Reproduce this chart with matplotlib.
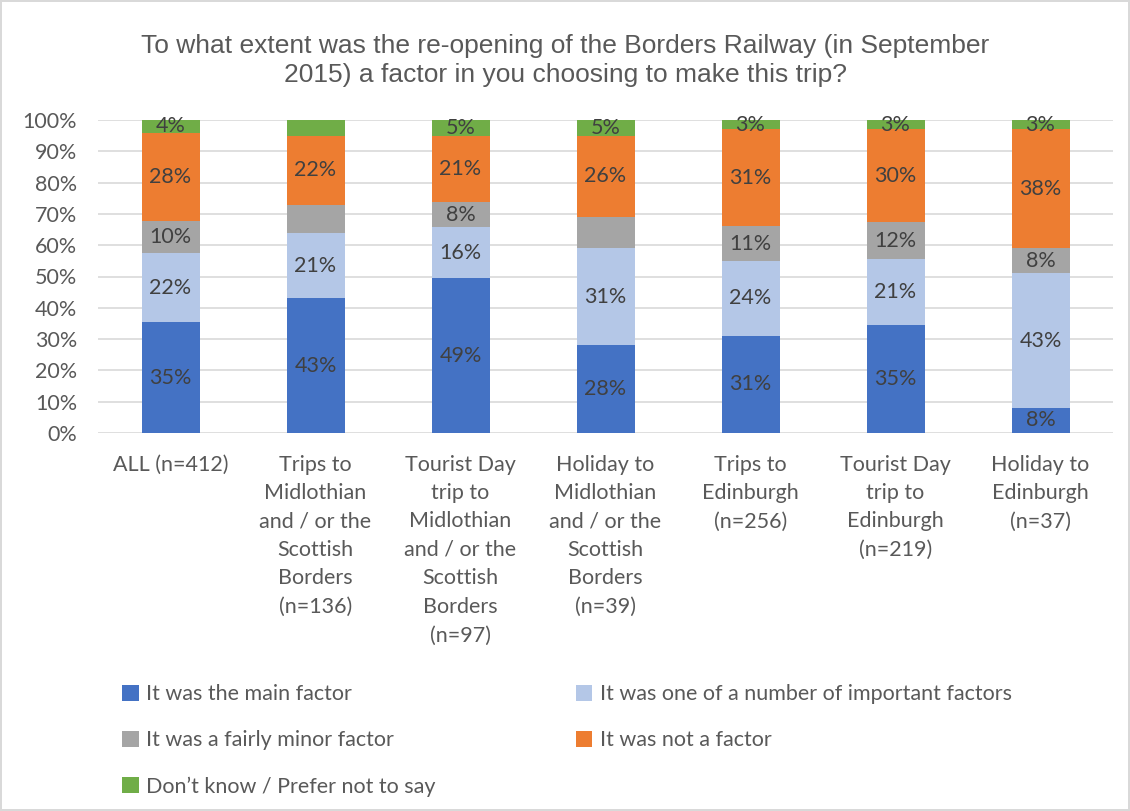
import matplotlib.pyplot as plt
import numpy as np

categories = [
    "ALL (n=412)",
    "Trips to\nMidlothian\nand / or the\nScottish\nBorders\n(n=136)",
    "Tourist Day\ntrip to\nMidlothian\nand / or the\nScottish\nBorders\n(n=97)",
    "Holiday to\nMidlothian\nand / or the\nScottish\nBorders\n(n=39)",
    "Trips to\nEdinburgh\n(n=256)",
    "Tourist Day\ntrip to\nEdinburgh\n(n=219)",
    "Holiday to\nEdinburgh\n(n=37)",
]
series = [
    "It was the main factor",
    "It was one of a number of important factors",
    "It was a fairly minor factor",
    "It was not a factor",
    "Don\u2019t know / Prefer not to say",
]
main_factor = [35, 43, 49, 28, 31, 35, 8]
important = [22, 21, 16, 31, 24, 21, 43]
minor = [10, 9, 8, 10, 11, 12, 8]
not_factor = [28, 22, 21, 26, 31, 30, 38]
dont_know = [4, 5, 5, 5, 3, 3, 3]
# segments whose data label is not shown in the original
hidden = {(2, 1), (4, 1), (2, 3)}

colors = ["#4472C4", "#B4C7E7", "#A5A5A5", "#ED7D31", "#70AD47"]

plt.rcParams['font.family'] = ['Lato', 'DejaVu Sans']
FS = 15.5

fig = plt.figure(figsize=(11.3, 8.11), dpi=100)
fig.patch.set_edgecolor('#d9d9d9')
fig.patch.set_linewidth(1.5)
ax = fig.add_axes([98 / 1130, 1 - 433 / 811, (1113 - 98) / 1130, (433 - 120) / 811])

x = np.arange(len(categories))
data = [main_factor, important, minor, not_factor, dont_know]
tot = np.sum(np.array(data, dtype=float), axis=0)
bottom = np.zeros(len(categories))
handles = []
for i, (vals, name, c) in enumerate(zip(data, series, colors)):
    vals = np.array(vals, dtype=float)
    v = vals / tot * 100
    b = ax.bar(x, v, 0.4, bottom=bottom, color=c, label=name, zorder=2)
    handles.append(b)
    for j in range(len(categories)):
        if (i, j) in hidden:
            continue
        ax.text(x[j], bottom[j] + v[j] / 2, f"{vals[j]:.0f}%", ha='center', va='center',
                fontsize=FS, color='#404040', zorder=3)
    bottom += v

ax.set_ylim(0, 100)
ax.set_xlim(-0.5, len(categories) - 0.5)
ax.set_yticks(range(0, 101, 10))
ax.set_yticklabels([f"{t}%" for t in range(0, 101, 10)], fontsize=FS, color='#595959')
ax.set_xticks(x)
ax.set_xticklabels(categories, fontsize=FS, color='#595959', va='top', linespacing=1.53)
ax.tick_params(length=0)
ax.tick_params(axis='x', pad=15.5)
ax.tick_params(axis='y', pad=15)
ax.grid(axis='y', color='#d9d9d9', linewidth=1.2, zorder=0)
for s in ax.spines.values():
    s.set_visible(False)

fig.text(0.5, 0.958, "To what extent was the re-opening of the Borders Railway (in September\n2015) a factor in you choosing to make this trip?",
         ha='center', va='top', fontsize=19, color='#595959', family='Liberation Sans', linespacing=1.24)

order = [0, 2, 4, 1, 3]
fig.legend(handles=[handles[k] for k in order], labels=[series[k] for k in order],
           loc='upper left', bbox_to_anchor=(103 / 1130, 1 - 665 / 811),
           ncol=2, frameon=False, fontsize=FS, labelcolor='#595959', handlelength=0.75, handleheight=0.75,
           handletextpad=0.35, columnspacing=6.52, labelspacing=1.21)

fig.savefig("out.png", dpi=100)
